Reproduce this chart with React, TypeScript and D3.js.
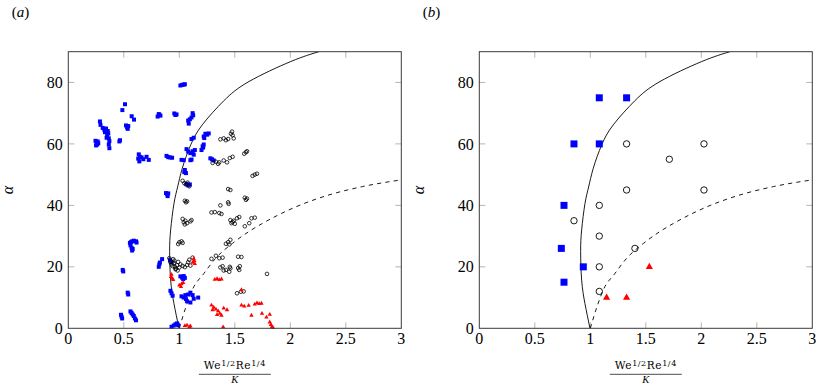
import React from 'react';
import * as d3 from 'd3';

const width = 822;
const height = 387;
const plotW = 333;
const top = 51.7;
const bottom = 328.3;

const xTicks = [0, 0.5, 1, 1.5, 2, 2.5, 3];
const yTicks = [0, 20, 40, 60, 80];

// boundary curves (x, alpha)
const solidCurve: [number, number][] = [
  [0.997, 0], [0.952, 8], [0.922, 15.7], [0.913, 25], [0.922, 32], [0.952, 40.6],
  [0.985, 46], [1.027, 52.1], [1.103, 59.7], [1.207, 66.2], [1.4, 74.0],
  [1.628, 80.3], [2.004, 86.8], [2.258, 90],
];
const dashedCurve: [number, number][] = [
  [1, 0], [1.06, 7], [1.117, 12.5], [1.223, 17.9], [1.328, 22.8], [1.478, 27.6],
  [1.628, 31.5], [1.748, 34.1], [2.049, 39.5], [2.349, 43.4], [2.649, 46.1], [3, 48.3],
];

// panel (a)
const aBlue: [number, number][] = [
  [0.245, 61.0], [0.255, 60.3], [0.25, 59.5], [0.265, 60.8], [0.26, 59.8], [0.27, 60.2],
  [0.285, 67.3], [0.29, 66.2], [0.31, 65.2], [0.325, 64.6], [0.34, 65.0], [0.355, 64.2],
  [0.36, 63.4], [0.35, 62.6], [0.365, 61.8], [0.37, 60.9], [0.365, 59.8], [0.37, 58.6],
  [0.33, 63.8], [0.345, 62.0],
  [0.466, 61.2], [0.46, 60.8], [0.487, 71.0], [0.511, 72.9],
  [0.52, 66.0], [0.53, 65.4], [0.54, 65.8], [0.535, 64.9], [0.571, 69.0], [0.592, 67.9],
  [0.635, 56.6], [0.645, 55.8], [0.66, 55.6], [0.63, 55.2], [0.64, 54.3], [0.676, 55.0],
  [0.705, 55.8], [0.725, 54.8],
  [0.805, 68.9], [0.815, 69.7], [0.83, 69.2], [0.82, 69.5],
  [0.955, 69.9], [0.965, 69.4], [0.975, 69.6],
  [1.01, 79.0], [1.025, 79.2], [1.04, 79.3], [1.05, 79.4],
  [1.08, 67.6], [1.085, 66.6], [1.095, 68.0], [1.11, 68.6], [1.125, 69.3], [1.12, 70.0],
  [0.885, 56.1], [0.9, 55.7], [0.915, 55.6], [0.935, 55.5],
  [1.02, 54.8], [1.04, 54.7], [1.1, 54.7], [1.11, 54.9],
  [1.11, 61.6], [1.13, 62.0],
  [1.065, 58.3], [1.08, 57.5], [1.1, 57.0], [1.12, 57.6], [1.14, 58.0], [1.13, 56.5],
  [1.2, 58.0], [1.21, 59.2], [1.22, 59.8], [1.215, 58.8],
  [1.22, 62.4], [1.235, 63.3], [1.25, 63.0], [1.265, 63.4], [1.225, 61.9],
  [1.28, 55.3], [1.31, 54.6], [1.295, 55.0],
  [1.05, 51.5], [1.06, 50.5], [1.045, 50.8],
  [1.065, 47.0], [1.08, 46.5], [1.095, 46.8],
  [0.88, 44.0], [0.89, 43.6], [0.9, 43.9], [0.895, 43.0],
  [0.82, 20.8], [0.815, 20.0], [0.825, 21.4], [0.845, 22.5], [0.916, 22.2], [0.93, 21.5],
  [0.555, 27.8], [0.565, 28.0], [0.575, 28.3], [0.59, 28.5], [0.61, 28.3], [0.615, 27.9],
  [0.56, 27.0], [0.57, 26.2], [0.575, 25.3], [0.58, 25.8],
  [0.49, 19.0], [0.495, 18.5], [0.535, 11.6], [0.54, 11.0],
  [0.475, 4.4], [0.48, 3.8], [0.485, 3.2],
  [0.56, 5.5], [0.57, 5.0], [0.58, 4.5], [0.59, 4.0], [0.6, 3.2], [0.61, 2.6],
  [1.01, 16.9], [1.025, 16.5], [1.04, 17.0], [1.05, 16.4], [1.035, 16.0],
  [0.92, 12.2], [0.93, 11.4], [0.94, 10.6],
  [1.02, 10.4], [1.04, 10.0], [1.06, 9.5], [1.08, 11.0], [1.1, 11.6], [1.12, 10.8],
  [1.07, 8.8], [1.1, 8.4], [1.13, 9.6], [1.17, 10.0], [1.055, 10.8],
  [0.93, 0.5], [0.95, 0.9], [0.965, 1.3], [0.98, 1.6], [0.99, 1.0],
];
const aBlack: [number, number][] = [
  [0.91, 22.8], [0.92, 21.5], [0.93, 20.8], [0.94, 20.2], [0.95, 21.2], [0.96, 20.0],
  [0.97, 19.4], [0.98, 20.5], [0.99, 21.6], [1.0, 19.8], [0.955, 22.0], [0.985, 18.8],
  [1.01, 20.8], [1.03, 20.3], [1.05, 19.9], [1.07, 20.6], [1.08, 21.5], [1.09, 22.3],
  [1.1, 20.4], [1.12, 23.0], [0.965, 19.2], [0.945, 22.5],
  [1.03, 48.0], [1.045, 47.2], [1.06, 46.8], [1.075, 47.4], [1.09, 46.2],
  [1.05, 41.5], [1.06, 41.0], [1.07, 41.3],
  [1.03, 35.6], [1.04, 34.5], [1.055, 35.0], [1.05, 33.8], [1.07, 34.2], [1.1, 34.8], [1.11, 35.2],
  [0.99, 27.4], [1.0, 28.0], [1.02, 28.3], [1.03, 27.8],
  [1.29, 37.7], [1.32, 37.8], [1.36, 37.5], [1.38, 37.2], [1.37, 40.0], [1.44, 41.0], [1.445, 40.5],
  [1.42, 27.5], [1.44, 28.0], [1.46, 28.8], [1.45, 27.3],
  [1.29, 22.6], [1.33, 23.6], [1.36, 22.8], [1.39, 23.0],
  [1.37, 19.8], [1.39, 20.2], [1.42, 19.0], [1.455, 20.0], [1.4, 18.8], [1.46, 19.5], [1.45, 18.4],
  [1.37, 61.5], [1.4, 61.8], [1.42, 61.2], [1.44, 61.6], [1.465, 63.3], [1.48, 62.8],
  [1.49, 61.8], [1.475, 64.0],
  [1.3, 53.8], [1.33, 54.2], [1.36, 54.0], [1.4, 54.6], [1.43, 54.0], [1.455, 55.4],
  [1.48, 55.8], [1.35, 53.5],
  [1.585, 56.8], [1.6, 57.3], [1.61, 57.6],
  [1.66, 49.6], [1.68, 50.0], [1.7, 50.3],
  [1.44, 45.3], [1.46, 45.0],
  [1.59, 42.5], [1.61, 42.2], [1.6, 41.8],
  [1.46, 35.2], [1.48, 34.6], [1.5, 34.0], [1.52, 35.8], [1.54, 36.2], [1.59, 33.2],
  [1.63, 34.2], [1.65, 35.8], [1.68, 36.0], [1.49, 35.0], [1.47, 34.2],
  [1.53, 23.3], [1.56, 23.2], [1.53, 19.6], [1.545, 20.2], [1.54, 19.0],
  [1.79, 17.7], [1.52, 11.4], [1.555, 11.9], [1.58, 12.0],
];
const aRed: [number, number][] = [
  [0.925, 16.8], [0.935, 16.2], [0.945, 15.8], [0.93, 17.5],
  [1.0, 14.0], [1.02, 14.4], [1.035, 14.8], [1.015, 13.5],
  [1.12, 21.4], [1.135, 22.0], [1.14, 21.0], [1.13, 22.6],
  [1.32, 15.9], [1.34, 16.1], [1.36, 15.8], [1.38, 16.0], [1.56, 12.5],
  [1.29, 7.5], [1.31, 6.8], [1.33, 6.2], [1.35, 5.6], [1.365, 4.8], [1.34, 4.4],
  [1.4, 6.5], [1.43, 6.0], [1.38, 4.2], [1.3, 6.0],
  [1.56, 7.5], [1.585, 7.2], [1.625, 7.4],
  [1.68, 7.8], [1.7, 8.2], [1.72, 8.0], [1.74, 8.1],
  [1.65, 4.2], [1.745, 4.8], [1.785, 3.6], [1.815, 4.5],
  [1.815, 2.0], [1.825, 1.2], [1.835, 0.5], [1.845, 0.2],
  [1.05, 0.8], [1.07, 1.0], [1.09, 0.4], [1.1, 0.7], [1.395, 0.4],
];

// panel (b)
const bBlue: [number, number][] = [
  [1.081, 75], [1.327, 75], [0.853, 60], [1.081, 60], [0.763, 40], [0.739, 26], [0.937, 20], [0.763, 15],
];
const bBlack: [number, number][] = [
  [1.327, 60], [2.024, 60], [1.712, 55], [1.327, 45], [2.024, 45], [1.081, 40], [0.853, 35],
  [1.081, 30], [1.402, 26], [1.081, 20], [1.081, 12],
];
const bRed: [number, number][] = [[1.147, 10], [1.327, 10], [1.532, 20]];

const serif = 'Liberation Serif';
const wideSerif = 'DejaVu Serif';

type Pt = [number, number];

const Panel = ({ left, tag, blue, black, red, big }: {
  left: number; tag: string; blue: Pt[]; black: Pt[]; red: Pt[]; big: boolean;
}) => {
  const x = d3.scaleLinear().domain([0, 3]).range([left, left + plotW]);
  const y = d3.scaleLinear().domain([0, 90]).range([bottom, top]);
  const solidPath = d3.line<Pt>().x((d) => x(d[0])).y((d) => y(d[1])).curve(d3.curveNatural)(solidCurve);
  const dashedPath = d3.line<Pt>().x((d) => x(d[0])).y((d) => y(d[1])).curve(d3.curveMonotoneX)(dashedCurve);

  const sq = big ? 7 : 4;
  const cr = big ? 3.2 : 1.8;
  const tri = big ? 7.2 : 4.4;
  const square = d3.symbol().type(d3.symbolSquare).size(sq * sq)();
  const circle = d3.symbol().type(d3.symbolCircle).size(Math.PI * cr * cr)();
  const triangle = d3.symbol().type(d3.symbolTriangle).size((tri * tri * Math.sqrt(3)) / 4)();
  const clipId = `clip-${tag}`;
  const cx = left + plotW / 2;

  return (
    <g>
      <defs>
        <clipPath id={clipId}>
          <rect x={left} y={top} width={plotW} height={bottom - top} />
        </clipPath>
      </defs>
      <text x={left - 56.6} y={16.5} fontSize={15} fontFamily={serif}>
        (<tspan fontStyle="italic">{tag}</tspan>)
      </text>

      {/* ticks, inside on all four sides */}
      {xTicks.slice(1, -1).map((t) => (
        <g key={`xt${t}`} stroke="#b4b4b4" strokeWidth={1}>
          <line x1={x(t)} x2={x(t)} y1={bottom} y2={bottom - 6} />
          <line x1={x(t)} x2={x(t)} y1={top} y2={top + 6} />
        </g>
      ))}
      {yTicks.slice(1).map((t) => (
        <g key={`yt${t}`} stroke="#b4b4b4" strokeWidth={1}>
          <line x1={left} x2={left + 6} y1={y(t)} y2={y(t)} />
          <line x1={left + plotW} x2={left + plotW - 6} y1={y(t)} y2={y(t)} />
        </g>
      ))}

      <g clipPath={`url(#${clipId})`}>
        <path d={solidPath || ''} fill="none" stroke="black" strokeWidth={0.9} />
        <path d={dashedPath || ''} fill="none" stroke="black" strokeWidth={0.9} strokeDasharray="4.2 4.2" />
      </g>

      {blue.map((d, i) => (
        <path key={`b${i}`} d={square || ''} transform={`translate(${x(d[0])},${y(d[1])})`} fill="#0000ff" />
      ))}
      {black.map((d, i) => (
        <path key={`k${i}`} d={circle || ''} transform={`translate(${x(d[0])},${y(d[1])})`}
          fill="none" stroke="black" strokeWidth={big ? 0.9 : 0.8} />
      ))}
      {red.map((d, i) => (
        <path key={`r${i}`} d={triangle || ''} transform={`translate(${x(d[0])},${y(d[1])})`} fill="#ff0000" />
      ))}

      <rect x={left} y={top} width={plotW} height={bottom - top} fill="none" stroke="#3a3a3a" strokeWidth={1} />

      {xTicks.map((t) => (
        <text key={`xl${t}`} x={x(t)} y={344} fontSize={16} textAnchor="middle" fontFamily={serif}>{t}</text>
      ))}
      {yTicks.map((t) => (
        <text key={`yl${t}`} x={left - 5.6} y={y(t)} dy="0.35em" fontSize={16} textAnchor="end" fontFamily={serif}>{t}</text>
      ))}

      <text transform={`translate(${left - 55},190) rotate(-90)`} fontSize={16} fontStyle="italic" textAnchor="middle" fontFamily={serif}>α</text>

      <text x={cx} y={369.3} fontSize={10.5} textAnchor="middle" letterSpacing={0.6} fontFamily={wideSerif}>
        We<tspan fontSize={8} dy={-3.2}>1/2</tspan><tspan dy={3.2}>Re</tspan><tspan fontSize={8} dy={-3.2}>1/4</tspan>
      </text>
      <line x1={cx - 36} x2={cx + 36} y1={374.3} y2={374.3} stroke="black" strokeWidth={0.7} />
      <text x={cx} y={382.5} fontSize={10.5} fontStyle="italic" textAnchor="middle" fontFamily={serif}>K</text>
    </g>
  );
};

export default function App() {
  return (
    <svg width={width} height={height} style={{ position: 'absolute', left: 0, top: 0, background: 'white' }}>
      <Panel left={68.3} tag="a" blue={aBlue} black={aBlack} red={aRed} big={false} />
      <Panel left={479.3} tag="b" blue={bBlue} black={bBlack} red={bRed} big={true} />
    </svg>
  );
}
